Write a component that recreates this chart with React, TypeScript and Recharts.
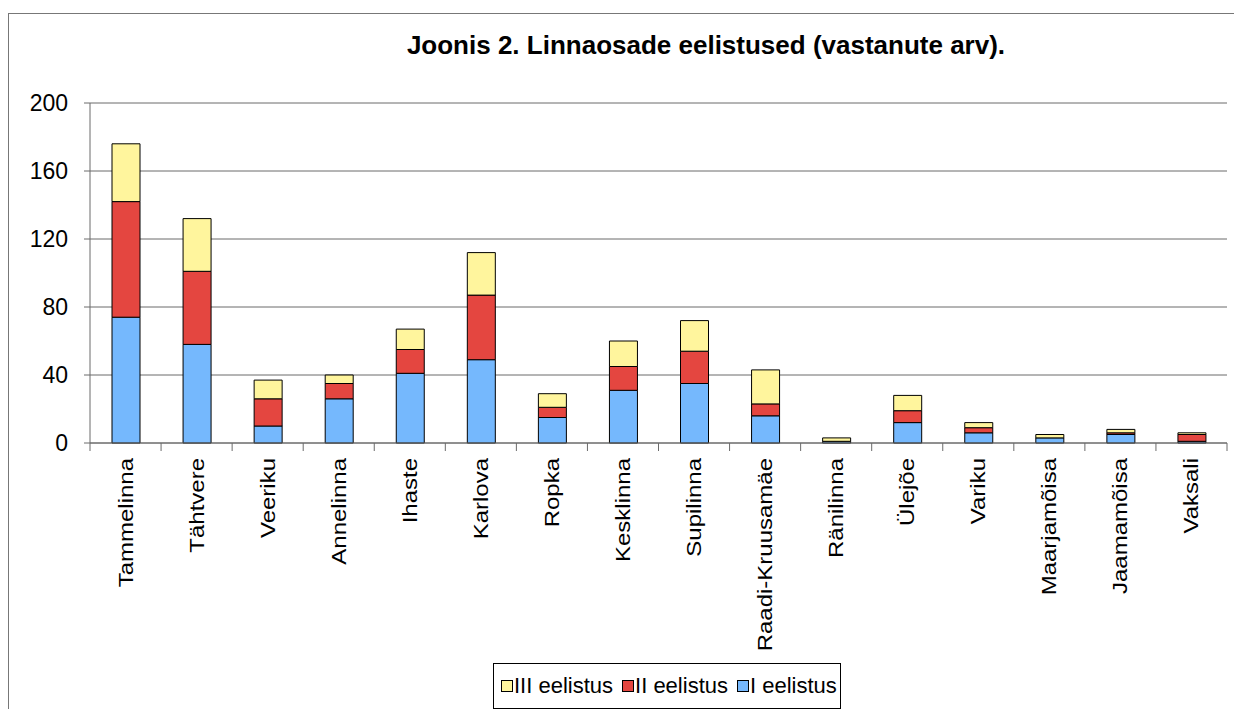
import React from "react"
import { BarChart, Bar, XAxis, YAxis, CartesianGrid } from "recharts"

const districts = [
  "Tammelinna", "Tähtvere", "Veeriku", "Annelinna", "Ihaste", "Karlova", "Ropka", "Kesklinna",
  "Supilinna", "Raadi-Kruusamäe", "Ränilinna", "Ülejõe", "Variku", "Maarjamõisa", "Jaamamõisa", "Vaksali",
]
const first = [74, 58, 10, 26, 41, 49, 15, 31, 35, 16, 1, 12, 6, 3, 5, 1]
const second = [68, 43, 16, 9, 14, 38, 6, 14, 19, 7, 0, 7, 3, 0, 1, 4]
const third = [34, 31, 11, 5, 12, 25, 8, 15, 18, 20, 2, 9, 3, 2, 2, 1]
const yTicks = [0, 40, 80, 120, 160, 200]

const seriesNames = { first: "I eelistus", second: "II eelistus", third: "III eelistus" }
const colors = { first: "#75B8FD", second: "#E44640", third: "#FFF59D" }

const data = districts.map((name, i) => ({ name, first: first[i], second: second[i], third: third[i] }))

const FONT = "'Liberation Sans', Arial, sans-serif"
const W = 1234
const H = 701
const M = { top: 95, left: 22, right: 15, bottom: 16 }
const Y_W = 60
const X_H = 250
const plotLeft = M.left + Y_W
const plotWidth = W - plotLeft - M.right
const plotBottom = H - M.bottom - X_H
const band = plotWidth / districts.length
const AXIS = "#6b6b6b"

// label rotated like Excel plus the tick mark on the category border
// eslint-disable-next-line @typescript-eslint/no-explicit-any
const XTick = ({ x, payload, index }: any) => {
  const left = x - band / 2
  return (
    <g>
      <line x1={left} x2={left} y1={plotBottom} y2={plotBottom + 8} stroke={AXIS} />
      {index === districts.length - 1 && (
        <line x1={left + band} x2={left + band} y1={plotBottom} y2={plotBottom + 8} stroke={AXIS} />
      )}
      <text
        transform={`translate(${x},${plotBottom + 15}) rotate(-90) scale(1.2,1)`}
        textAnchor="end"
        dy="0.35em"
        fontSize={20}
        fontFamily={FONT}
        fill="#000"
      >
        {payload.value}
      </text>
    </g>
  )
}

const legendItems = [
  { key: "third", label: seriesNames.third },
  { key: "second", label: seriesNames.second },
  { key: "first", label: seriesNames.first },
] as const

export default function App() {
  return (
    <div style={{ position: "relative", width: W, height: H, overflow: "hidden", fontFamily: FONT }}>
      <div
        style={{
          position: "absolute", left: 0, top: 5, width: W + 20, height: H + 20,
          borderLeft: "1px solid #777", borderTop: "1px solid #777",
        }}
      />
      <div
        style={{
          position: "absolute", left: 398, top: 24, width: 600, textAlign: "center",
          fontSize: 26, lineHeight: "26px", fontWeight: "bold", whiteSpace: "nowrap",
          display: "flex", justifyContent: "center",
        }}
      >
        Joonis 2. Linnaosade eelistused (vastanute arv).
      </div>
      <div style={{ position: "absolute", left: 0, top: 0 }}>
        <BarChart width={W} height={H} data={data} margin={M} barSize={28}>
          <CartesianGrid vertical={false} stroke={AXIS} />
          <XAxis
            dataKey="name"
            interval={0}
            height={X_H}
            axisLine={{ stroke: AXIS }}
            tickLine={false}
            tick={<XTick />}
          />
          <YAxis
            width={Y_W}
            domain={[0, 200]}
            ticks={yTicks}
            axisLine={{ stroke: AXIS }}
            tickLine={{ stroke: AXIS }}
            tickSize={6}
            tickMargin={16}
            tick={{ fill: "#000", fontSize: 23, fontFamily: FONT }}
          />
          <YAxis yAxisId="r" orientation="right" width={0} tick={false} tickLine={false} axisLine={{ stroke: AXIS }} domain={[0, 200]} />
          <Bar dataKey="first" name={seriesNames.first} stackId="a" fill={colors.first} stroke="#000" strokeWidth={1} isAnimationActive={false} />
          <Bar dataKey="second" name={seriesNames.second} stackId="a" fill={colors.second} stroke="#000" strokeWidth={1} isAnimationActive={false} />
          <Bar dataKey="third" name={seriesNames.third} stackId="a" fill={colors.third} stroke="#000" strokeWidth={1} isAnimationActive={false} />
        </BarChart>
      </div>
      <div
        style={{
          position: "absolute", left: 485, top: 655, width: 348, height: 46, boxSizing: "border-box",
          border: "1px solid #000", display: "flex", alignItems: "center", paddingLeft: 7,
          fontSize: 22, background: "#fff", whiteSpace: "nowrap",
        }}
      >
        {legendItems.map((it) => (
          <span key={it.key} style={{ display: "flex", alignItems: "center", marginRight: 9 }}>
            <span style={{ width: 10, height: 10, border: "1px solid #000", background: colors[it.key], marginRight: 1 }} />
            {it.label}
          </span>
        ))}
      </div>
    </div>
  )
}
